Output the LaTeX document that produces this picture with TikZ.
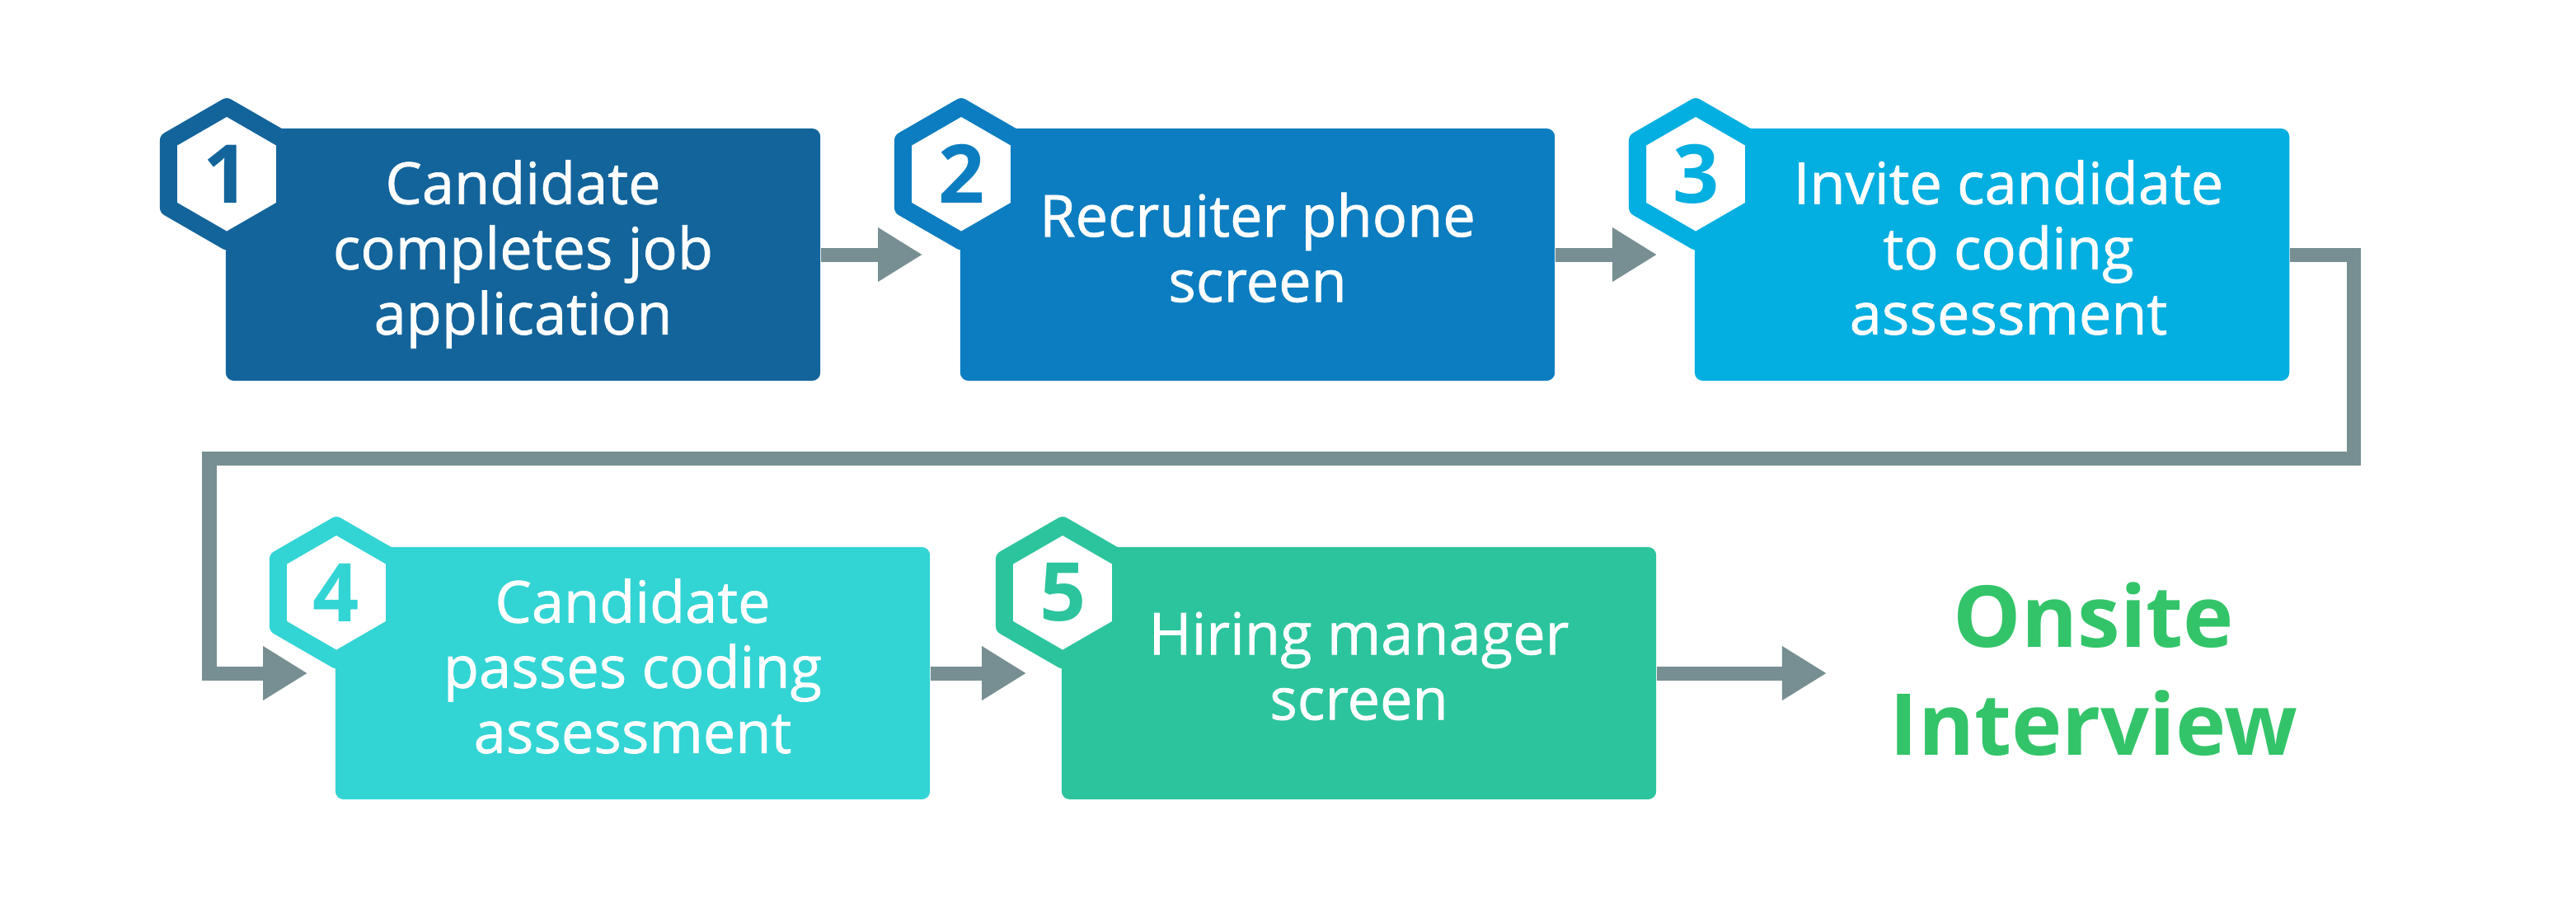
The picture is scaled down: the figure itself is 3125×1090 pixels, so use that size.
\documentclass[tikz,border=0pt]{standalone}
\usepackage{fontspec}
\setmainfont{Open Sans}
\newfontfamily\boxfont{Open Sans}[FakeBold=1]
\usepackage{tikz}
\usetikzlibrary{arrows.meta,
calc,
shapes.geometric
}
\definecolor{stepA}{HTML}{13649B}
\definecolor{stepB}{HTML}{0C7DC0}
\definecolor{stepC}{HTML}{03AEE0}
\definecolor{stepD}{HTML}{33D4D4}
\definecolor{stepE}{HTML}{2CC49C}
\definecolor{onsitegreen}{HTML}{33C469}
\definecolor{flowgray}{HTML}{778F92}
\tikzset{
    stepbox/.style={fill=#1, rounded corners=0.1cm, minimum width=7.21cm,
        minimum height=3.06cm, inner sep=0pt, text=white, align=center,
        font=\boxfont\fontsize{20}{22.5}\selectfont,
        execute at begin node={\rule{0pt}{0.67cm}},
        execute at end node={\rule[-0.18cm]{0pt}{0.1cm}}},
    hexa/.style={regular polygon, regular polygon sides=6, shape border rotate=30,
        minimum size=1.63cm, inner sep=0pt, fill=white, draw=#1, text=#1,
        line width=0.21cm, line join=round, font=\bfseries\fontsize{28}{30}\selectfont},
    flow/.style={draw=flowgray, line width=0.17cm,
        -{Triangle[length=0.54cm, width=0.62cm]}}
}

\begin{document}
\begin{tikzpicture}[x=0.01cm, y=-0.01cm]
    \useasboundingbox (0,0) rectangle (3125,1090);

    %top row
    \node[stepbox=stepA] (b1) at (634.5,309) {Candidate\\completes job\\application};
    \node[stepbox=stepB] (b2) at (1525.5,309) {Recruiter phone\\screen};
    \node[stepbox=stepC] (b3) at (2416.5,309) {\hspace*{0.4cm}Invite candidate\\
        \hspace*{0.4cm}to coding\\\hspace*{0.4cm}assessment};

    %bottom row
    \node[stepbox=stepD] (b4) at (767.5,817) {Candidate\\passes coding\\assessment};
    \node[stepbox=stepE] (b5) at (1648.5,817) {Hiring manager\\screen};

    %number badges
    \node[hexa=stepA] (h1) at ($(b1.north west)+(2,56)$) {1};
    \node[hexa=stepB] (h2) at ($(b2.north west)+(2,56)$) {2};
    \node[hexa=stepC] (h3) at ($(b3.north west)+(2,56)$) {3};
    \node[hexa=stepD] (h4) at ($(b4.north west)+(2,56)$) {4};
    \node[hexa=stepE] (h5) at ($(b5.north west)+(2,56)$) {5};

    %goal
    \node[anchor=base, align=center, inner sep=0pt, text=onsitegreen,
        font=\bfseries\fontsize{29.5}{37}\selectfont] (goal) at (2540,916) {Onsite\\Interview};

    %arrows
    \draw[flow, shorten >=0.45cm] (b1.east) -- (b2.west);
    \draw[flow, shorten >=0.45cm] (b2.east) -- (b3.west);
    \coordinate (turnR) at (2855,556);
    \coordinate (turnL) at (254,556);
    \draw[flow, shorten >=0.33cm] (b3.east) -| (turnR) -- (turnL) |- (b4.west);
    \draw[flow, shorten >=0.42cm] (b4.east) -- (b5.west);
    \draw[flow, shorten >=0.76cm] (b5.east) -- (b5.east -| goal.west);
\end{tikzpicture}
\end{document}
